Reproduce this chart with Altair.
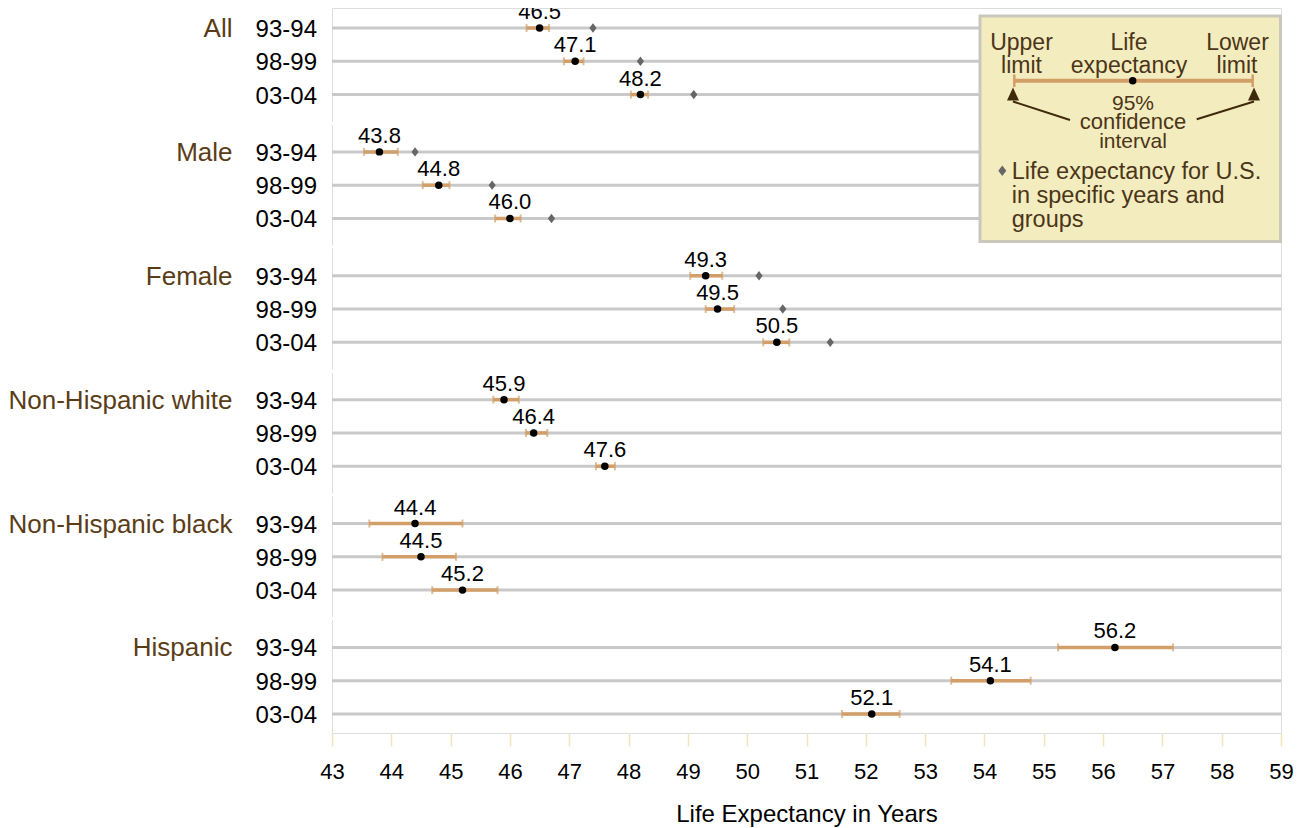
import altair as alt
import pandas as pd

# ---------------- data ----------------
groups = ["All", "Male", "Female", "Non-Hispanic white", "Non-Hispanic black", "Hispanic"]
periods = ["93-94", "98-99", "03-04"]
estimate = [46.5, 47.1, 48.2,
            43.8, 44.8, 46.0,
            49.3, 49.5, 50.5,
            45.9, 46.4, 47.6,
            44.4, 44.5, 45.2,
            56.2, 54.1, 52.1]
lower = [46.28, 46.91, 48.04,
         43.54, 44.53, 45.75,
         49.04, 49.30, 50.27,
         45.72, 46.27, 47.45,
         43.63, 43.85, 44.69,
         55.24, 53.44, 51.60]
upper = [46.66, 47.24, 48.33,
         44.11, 44.98, 46.18,
         49.58, 49.78, 50.71,
         46.15, 46.63, 47.77,
         45.20, 45.09, 45.79,
         57.18, 54.78, 52.57]
us_value = [47.4, 48.2, 49.1,
            44.4, 45.7, 46.7,
            50.2, 50.6, 51.4,
            None, None, None,
            None, None, None,
            None, None, None]
x_ticks = list(range(43, 60))

# ---------------- styling ----------------
FONT = "Liberation Sans"
BG = "#f3ecbe"
TAN = "#d39f68"
GRID = "#c9c9c9"
BROWN = "#5a3d17"
LEG_TXT = "#4b3518"
DARK = "#3f2a0c"
W, H = 949, 725
GROUP_STEP = 3.72
UNIT = 686 / (5 * GROUP_STEP + 2)
Y_DOMAIN = [-20 / UNIT, 5 * GROUP_STEP + 2 + 19 / UNIT]

rows = []
for gi, g in enumerate(groups):
    for pi, p in enumerate(periods):
        i = gi * 3 + pi
        rows.append(dict(group=g, period=p, pos=gi * GROUP_STEP + pi,
                         est=estimate[i], lo=lower[i], hi=upper[i],
                         us=us_value[i], label=f"{estimate[i]:.1f}",
                         first=(pi == 0)))
df = pd.DataFrame(rows)
us_df = df[df["us"].notna()].copy()
grp_df = df[df["first"]].copy()
sep_df = pd.DataFrame({"pos": [gi * GROUP_STEP + 2.86 for gi in range(len(groups) - 1)]})

yscale = alt.Scale(domain=Y_DOMAIN, reverse=True, nice=False, zero=False)
xscale = alt.Scale(domain=[43, 59], nice=False, zero=False)
Y = alt.Y("pos:Q", scale=yscale, axis=None)

base = alt.Chart(df)

grid = base.mark_rule(color=GRID, strokeWidth=3).encode(
    y=Y, x=alt.value(0), x2=alt.value(W))
seps = alt.Chart(sep_df).mark_rule(color="white", strokeWidth=3).encode(
    y=Y, x=alt.value(0), x2=alt.value(W))

one = alt.Data(values=[{"k": 1}])
box = alt.Chart(one).mark_rect(fill=BG, stroke="#cac8bd", strokeWidth=3).encode(
    x=alt.value(648), x2=alt.value(948.5), y=alt.value(8), y2=alt.value(233.5))

ci = base.mark_rule(color=TAN, strokeWidth=3.5).encode(
    x=alt.X("lo:Q", scale=xscale,
            axis=alt.Axis(values=x_ticks, format="d", labelOverlap=False,
                          labelFlush=False, domain=False, grid=False,
                          tickColor="#eee6bd", tickSize=13, tickWidth=1.5,
                          labelFontSize=22, labelFont=FONT, labelColor="black",
                          labelPadding=15, titleFontSize=24, titleFont=FONT,
                          titleFontWeight="normal", titleColor="black",
                          titlePadding=20),
            title="Life Expectancy in Years"),
    x2="hi:Q", y=Y)
cap_lo = base.mark_tick(orient="vertical", color=TAN, size=8, thickness=2).encode(
    x=alt.X("lo:Q", scale=xscale), y=Y)
cap_hi = base.mark_tick(orient="vertical", color=TAN, size=8, thickness=2).encode(
    x=alt.X("hi:Q", scale=xscale), y=Y)
dots = base.mark_circle(color="black", size=56, opacity=1).encode(
    x=alt.X("est:Q", scale=xscale), y=Y)
DIAMOND = "M0,-1.3L1,0L0,1.3L-1,0Z"
us = alt.Chart(us_df).mark_point(shape=DIAMOND, filled=True, color="#666666",
                                 size=52, opacity=1).encode(
    x=alt.X("us:Q", scale=xscale), y=Y)
labels = base.mark_text(font=FONT, fontSize=22, color="black",
                        baseline="alphabetic", dy=-9).encode(
    x=alt.X("est:Q", scale=xscale), y=Y, text="label:N")
yr = base.mark_text(font=FONT, fontSize=24, color="black", align="right",
                    baseline="alphabetic", dy=9).encode(
    x=alt.value(-15), y=Y, text="period:N")
grp = alt.Chart(grp_df).mark_text(font=FONT, fontSize=26, color=BROWN, align="right",
                                  baseline="alphabetic", dy=9).encode(
    x=alt.value(-99.5), y=Y, text="group:N")


def ltext(txt, x, y, size=23, align="center", color=LEG_TXT):
    return alt.Chart(one).mark_text(font=FONT, fontSize=size, color=color,
                                    align=align, baseline="alphabetic").encode(
        x=alt.value(x), y=alt.value(y), text=alt.value(txt))


leg = [
    ltext("Upper", 689.5, 42), ltext("limit", 689.5, 64.5),
    ltext("Life", 797, 42), ltext("expectancy", 797, 64.5),
    ltext("Lower", 905.5, 42), ltext("limit", 905, 64.5),
    alt.Chart(one).mark_rule(color=TAN, strokeWidth=4).encode(
        x=alt.value(682.3), x2=alt.value(920.7), y=alt.value(72.7)),
    alt.Chart(one).mark_rule(color=TAN, strokeWidth=2.5).encode(
        x=alt.value(682.3), y=alt.value(66.5), y2=alt.value(79)),
    alt.Chart(one).mark_rule(color=TAN, strokeWidth=2.5).encode(
        x=alt.value(920.7), y=alt.value(66.5), y2=alt.value(79)),
    alt.Chart(one).mark_circle(color="black", size=56, opacity=1).encode(
        x=alt.value(800.7), y=alt.value(72.7)),
    alt.Chart(one).mark_point(shape="M0,-1.1L1,1.1L-1,1.1Z", filled=True, color=DARK,
                              size=144, opacity=1).encode(
        x=alt.value(681), y=alt.value(86)),
    alt.Chart(one).mark_point(shape="M0,-1.1L1,1.1L-1,1.1Z", filled=True, color=DARK,
                              size=144, opacity=1).encode(
        x=alt.value(922), y=alt.value(86)),
    alt.Chart(one).mark_rule(color=DARK, strokeWidth=2).encode(
        x=alt.value(681), y=alt.value(93.5), x2=alt.value(738), y2=alt.value(112)),
    alt.Chart(one).mark_rule(color=DARK, strokeWidth=2).encode(
        x=alt.value(864.7), y=alt.value(111.3), x2=alt.value(922), y2=alt.value(93.5)),
    ltext("95%", 801, 102, size=21), ltext("confidence", 801, 121.3, size=22),
    ltext("interval", 801, 140, size=21),
    alt.Chart(one).mark_point(shape=DIAMOND, filled=True, color="#666666",
                              size=64, opacity=1).encode(
        x=alt.value(670.3), y=alt.value(162.7)),
    ltext("Life expectancy for U.S.", 679.7, 171.3, size=23.5, align="left"),
    ltext("in specific years and", 679.7, 195.3, size=23.5, align="left"),
    ltext("groups", 679.7, 219, size=23.5, align="left"),
]

chart = alt.layer(grid, seps, box, ci, cap_lo, cap_hi, us, dots, labels, yr, grp, *leg).properties(
    width=W, height=H,
    autosize=alt.AutoSizeParams(type="none"),
    padding={"left": 324, "top": 0, "right": 13, "bottom": 95},
).configure_view(fill=BG, stroke=None).configure(background="white")

chart.save("out.html", embed_options={"renderer": "svg", "actions": False})
